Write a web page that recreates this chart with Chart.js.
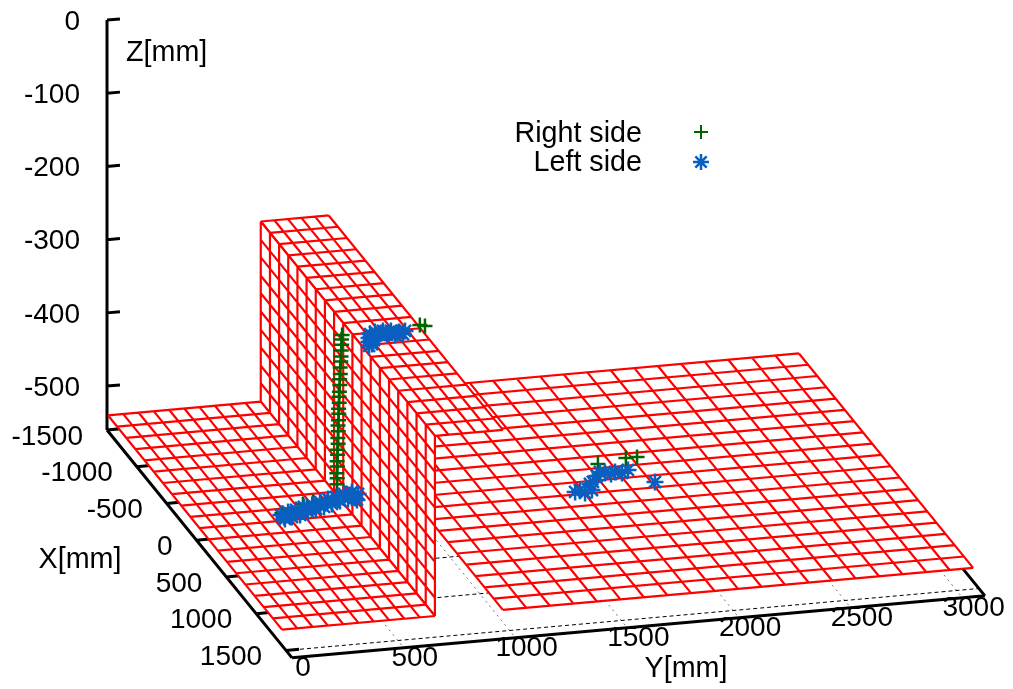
<!DOCTYPE html>
<html>
<head>
<meta charset="utf-8">
<title>Right and left side</title>
<script src="https://cdn.jsdelivr.net/npm/chart.js@4"></script>
<style>
html, body { margin: 0; padding: 0; background: #fff; }
canvas { display: block; }
</style>
</head>
<body>
<canvas id="myChart" width="1013" height="689"></canvas>
<script>
// axis ticks (mm)
const zTicks = [0, -100, -200, -300, -400, -500];
const xTicks = [-1500, -1000, -500, 0, 500, 1000, 1500];
const yTicks = [0, 500, 1000, 1500, 2000, 2500, 3000];

// surface cell edges (mm)
const gridX = [-1500, -1346, -1193, -1040, -886, -733, -579, -426, -272, -119, 35, 188, 342, 495, 649, 802, 956, 1109, 1263, 1417];
const leftFloorY = [4, 72, 141, 209, 278, 346, 414, 483, 551, 620, 688];
const plateauY = [688, 749, 810, 870, 931, 992];
const rightFloorY = [992, 1097, 1202, 1308, 1413, 1518, 1623, 1728, 1834, 1939, 2044, 2149, 2254, 2360, 2465, 2570, 2675, 2780, 2886, 2991, 3096];
const wallZ = [-540, -515, -491, -466, -442, -417, -392, -368, -343, -319, -294];

// Right side
const rightX = [-190, -190, -189, -190, -191, -190, -190, -189, -190, -190, -191, -190, -190, -189, -190, -190, -190, -191, -190, -190, -189, -190, -190, -190, -190, -190, -190, -63, -154, -168, -7, 11, -326, -371, -371];
const rightY = [679, 680, 678, 681, 680, 682, 681, 684, 683, 685, 684, 686, 687, 686, 689, 688, 690, 692, 691, 694, 693, 696, 697, 698, 700, 699, 702, 399, 517, 566, 1001, 1019, 1883, 2020, 2070];
const rightZ = [-521, -513, -506, -497, -490, -481, -474, -466, -458, -449, -441, -434, -425, -418, -410, -402, -395, -386, -378, -371, -362, -354, -347, -339, -331, -324, -318, -540, -540, -540, -294, -294, -540, -540, -540];

// Left side
const leftX = [-39, 16, -69, -1, -86, -18, -115, -47, -131, -76, -160, -92, -189, -121, -205, -150, -234, -166, -250, -171, -218, -143,
    -14, -31, -50, -67, -85, -103, -122, -140, -159, -171, -196, -215,
    201, 180, 151, 129, 100, 78, 51, 31, 73, 27, 82, 36, 92, 58, 88, 52, 50, 59, 68, 131,
    -33, 3, 27, -3, -104, -175, -204, -205, -216, -17, -82, -222, -185, -185];
const leftY = [388, 391, 428, 427, 468, 468, 511, 511, 552, 555, 595, 595, 639, 638, 679, 682, 722, 722, 762, 755, 781, 756,
    395, 427, 458, 490, 521, 553, 585, 617, 649, 679, 712, 744,
    718, 737, 731, 751, 745, 764, 763, 790, 797, 827, 830, 860, 863, 890, 900, 919, 812, 845, 879, 759,
    2060, 1693, 1731, 1770, 1801, 1838, 1882, 1927, 1988, 1720, 1782, 1864, 1904, 1953];
const leftZ = [-540, -540, -540, -540, -540, -540, -540, -540, -540, -540, -540, -540, -540, -540, -540, -540, -540, -540, -540, -540, -540, -540,
    -540, -540, -540, -540, -540, -540, -540, -540, -540, -540, -540, -540,
    -294, -294, -294, -294, -294, -294, -294, -294, -294, -294, -294, -294, -294, -294, -294, -294, -294, -294, -294, -294,
    -540, -540, -540, -540, -540, -540, -540, -540, -540, -540, -540, -540, -540, -540];

const xMin = -1500, xMax = 1600, yMin = 0, yMax = 3100, zBase = -560;

// fixed gnuplot view: mm -> page position
function view(X, Y, Z) {
    return {
        x: 107 + (X - xMin) * 0.0597 + Y * 0.2235,
        y: 430 + (X - xMin) * 0.0735 - Y * 0.02 - (Z - zBase) * 0.732
    };
}

const gap = { x: NaN, y: NaN };

function segments(list) {
    const pts = [];
    list.forEach(s => pts.push(s[0], s[1], gap));
    return pts;
}

// white patch plus red cells, pos(u, v) gives the 3d point
function sheet(us, vs, pos, order) {
    const lines = [];
    us.forEach(u => lines.push([pos(u, vs[0]), pos(u, vs[vs.length - 1])]));
    vs.forEach(v => lines.push([pos(us[0], v), pos(us[us.length - 1], v)]));
    const last = [us[us.length - 1], vs[vs.length - 1]];
    return [
        {
            data: [pos(us[0], vs[0]), pos(last[0], vs[0]), pos(last[0], last[1]), pos(us[0], last[1]), pos(us[0], vs[0])],
            showLine: true, fill: "shape", backgroundColor: "#ffffff", borderWidth: 0, pointRadius: 0, order: order + 1
        },
        {
            data: segments(lines),
            showLine: true, borderColor: "#ff0000", borderWidth: 2.2, pointRadius: 0, order: order
        }
    ];
}

function marks(label, xs, ys, zs, style, color, radius, width, order) {
    return {
        label: label,
        data: xs.map((x, i) => view(x, ys[i], zs[i])),
        showLine: false,
        pointStyle: style,
        pointRadius: radius,
        pointBorderWidth: width,
        pointBorderColor: color,
        pointBackgroundColor: color,
        borderColor: color,
        order: order
    };
}

const frame = segments([
    [view(xMin, 0, zBase), view(xMin, 0, 0)],
    [view(xMin, 0, zBase), view(xMax, 0, zBase)],
    [view(xMax, 0, zBase), view(xMax, yMax, zBase)],
    [view(xMax, yMax, zBase), view(xMin, yMax, zBase)],
    [view(xMin, yMax, zBase), view(xMin, 0, zBase)]
].concat(
    zTicks.map(z => [view(xMin, 0, z), view(xMin, 58, z)]),
    xTicks.map(x => [view(x, 0, zBase), view(x, 58, zBase)])
));

const datasets = [
    marks("Left side", leftX, leftY, leftZ, "star", "#0a60c0", 8.5, 2.5, 1),
    marks("Right side", rightX, rightY, rightZ, "cross", "#006400", 7.5, 2.5, 2),
    ...sheet(gridX, leftFloorY, (x, y) => view(x, y, wallZ[0]), 10),
    ...sheet(gridX, wallZ, (x, z) => view(x, leftFloorY[leftFloorY.length - 1], z), 20),
    ...sheet(gridX, plateauY, (x, y) => view(x, y, wallZ[wallZ.length - 1]), 30),
    ...sheet(gridX, rightFloorY, (x, y) => view(x, y, wallZ[0]), 40),
    { data: frame, showLine: true, borderColor: "#000000", borderWidth: 3, pointRadius: 0, order: 50 },
    {
        data: segments(xTicks.map(x => [view(x, yMin, zBase), view(x, yMax, zBase)])),
        showLine: true, borderColor: "#000000", borderWidth: 1, borderDash: [4, 3], pointRadius: 0, order: 60
    },
    {
        data: segments(yTicks.map(y => [view(xMin, y, zBase), view(xMax, y, zBase)])),
        showLine: true, borderColor: "#777777", borderWidth: 1, borderDash: [2, 4], pointRadius: 0, order: 61
    }
];

// tick labels, axis names and the key
const labelsPlugin = {
    id: "labels3d",
    afterDraw(chart) {
        const ctx = chart.ctx;
        ctx.save();
        ctx.fillStyle = "#000000";
        ctx.font = "28px 'Liberation Sans'";
        ctx.textBaseline = "middle";

        ctx.textAlign = "right";
        zTicks.forEach(z => ctx.fillText(String(z), 80, view(xMin, 0, z).y + 2));
        xTicks.forEach(x => {
            const p = view(x, 0, zBase);
            ctx.fillText(String(x), p.x - 24, p.y + 7);
        });

        ctx.textAlign = "center";
        yTicks.forEach(y => {
            const p = view(xMax, y, zBase);
            ctx.fillText(String(y), p.x + 11, p.y + 10);
        });

        ctx.font = "28.7px 'Liberation Sans'";
        ctx.fillText("X[mm]", 80, 560);
        ctx.fillText("Y[mm]", 686, 669);

        ctx.textAlign = "left";
        ctx.fillText("Z[mm]", 126, 53);

        ctx.textAlign = "right";
        ctx.fillText("Right side", 642, 134);
        ctx.fillText("Left side", 642, 163);

        ctx.strokeStyle = "#006400";
        ctx.lineWidth = 2;
        Chart.helpers.drawPoint(ctx, { pointStyle: "cross", radius: 7, rotation: 0, borderWidth: 2 }, 701, 132);
        ctx.strokeStyle = "#0a60c0";
        ctx.fillStyle = "#0a60c0";
        ctx.lineWidth = 2.5;
        Chart.helpers.drawPoint(ctx, { pointStyle: "star", radius: 8, rotation: 0, borderWidth: 2.5 }, 701, 162);
        ctx.restore();
    }
};

const canvas = document.getElementById("myChart");
const myChart = new Chart(canvas, {
    type: "scatter",
    data: { datasets: datasets },
    options: {
        responsive: false,
        animation: false,
        layout: { padding: 0, autoPadding: false },
        plugins: { legend: { display: false }, tooltip: { enabled: false } },
        scales: {
            x: { type: "linear", min: 0, max: 1013, display: false },
            y: { type: "linear", min: 0, max: 689, reverse: true, display: false }
        }
    },
    plugins: [labelsPlugin]
});
</script>
</body>
</html>
